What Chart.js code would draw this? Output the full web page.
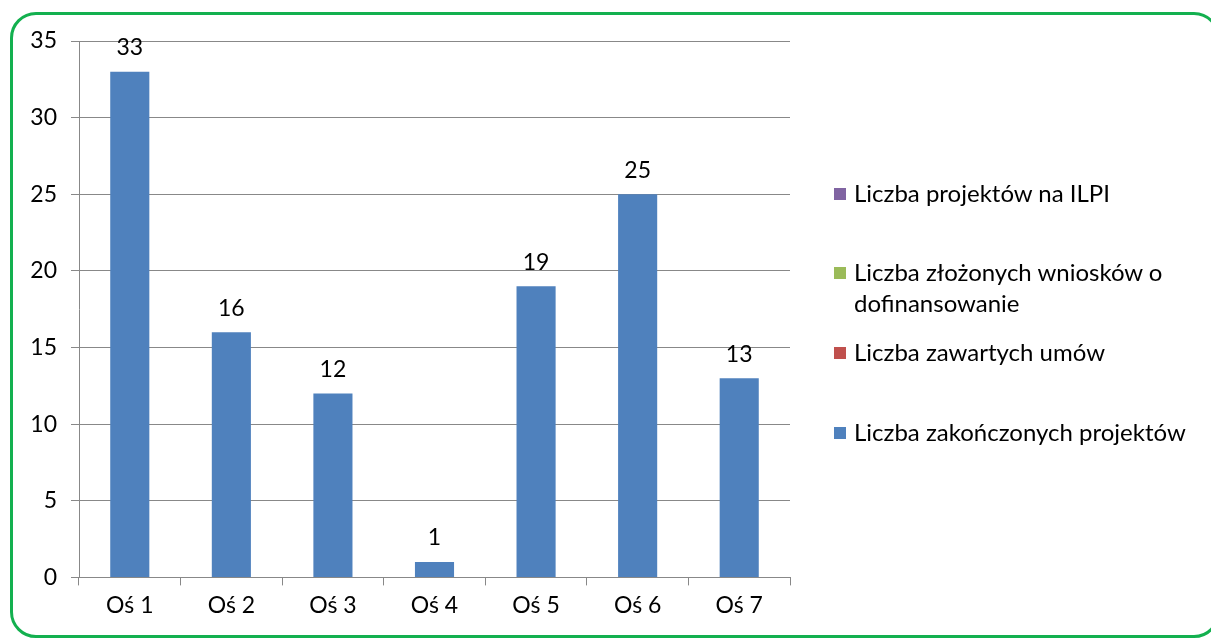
<!DOCTYPE html>
<html>
<head>
<meta charset="utf-8">
<script src="https://cdn.jsdelivr.net/npm/chart.js@4"></script>
<style>
  html, body { margin: 0; padding: 0; background: #fff; overflow: hidden; }
  #wrap { position: relative; width: 1211px; height: 639px; }
  #frame {
    position: absolute; left: 10px; top: 12px; width: 1210px; height: 626px;
    border: 3px solid #13b04f; border-radius: 26px; box-sizing: border-box;
  }
  #legend { position: absolute; left: 834px; top: 0; font-family: Lato, "Open Sans", sans-serif; font-size: 24px; color: #000; }
  .item { position: absolute; left: 0; white-space: nowrap; line-height: 31px; }
  .item span.box { display: inline-block; width: 12px; height: 12px; margin-right: 8px; vertical-align: 2px; }
</style>
</head>
<body>
<div id="wrap">
  <div id="frame"></div>
  <canvas id="chart" width="1211" height="639"></canvas>
  <div id="legend"></div>
</div>
<script>
// categories and values
const categories = ['Oś 1', 'Oś 2', 'Oś 3', 'Oś 4', 'Oś 5', 'Oś 6', 'Oś 7'];
const zakonczone = [33, 16, 12, 1, 19, 25, 13];
const seriesNames = ['Liczba projektów na ILPI', 'Liczba złożonych wniosków o\ndofinansowanie', 'Liczba zawartych umów', 'Liczba zakończonych projektów'];
const seriesColors = ['#8064A2', '#9BBB59', '#C0504D', '#4F81BD'];
const yTicks = [0, 5, 10, 15, 20, 25, 30, 35];

// only the last series has values, the other three are empty
const seriesData = [[], [], [], zakonczone];

const datasets = seriesNames.map((name, i) => ({
    label: name,
    data: seriesData[i],
    backgroundColor: seriesColors[i],
    barPercentage: 0.385,
    categoryPercentage: 1.0
}));

const FONT = 'Lato, "Open Sans", sans-serif';

// value labels over the bars
const valueLabels = {
    id: 'valueLabels',
    afterDatasetsDraw(chart) {
        const ctx = chart.ctx;
        const meta = chart.getDatasetMeta(3);
        ctx.save();
        ctx.font = '23px ' + FONT;
        ctx.fillStyle = '#000';
        ctx.textAlign = 'center';
        ctx.textBaseline = 'middle';
        meta.data.forEach((bar, i) => {
            ctx.fillText(String(zakonczone[i]), bar.x, bar.y - 24);
        });
        ctx.restore();
    }
};

new Chart(document.getElementById('chart').getContext('2d'), {
    type: 'bar',
    data: { labels: categories, datasets: datasets },
    options: {
        responsive: false,
        animation: false,
        layout: { padding: { top: 41, right: 421, bottom: 14, left: 0 } },
        plugins: {
            legend: { display: false },
            tooltip: { enabled: false }
        },
        scales: {
            x: {
                stacked: true,
                grid: { drawOnChartArea: false, drawTicks: true, tickLength: 8, offset: true, color: '#888' },
                border: { color: '#888' },
                ticks: { color: '#000', font: { size: 23, family: FONT }, padding: 6 }
            },
            y: {
                stacked: true,
                min: 0,
                max: 35,
                afterBuildTicks: (scale) => { scale.ticks = yTicks.map(v => ({ value: v })); },
                afterFit: (scale) => { scale.width = 79; },
                grid: { color: '#888', tickLength: 8 },
                border: { color: '#888' },
                ticks: { color: '#000', font: { size: 23, family: FONT }, padding: 14 }
            }
        }
    },
    plugins: [valueLabels]
});

// legend built from the dataset names
const legendTops = [177, 256, 336, 416];
const legend = document.getElementById('legend');
seriesNames.forEach((name, i) => {
    const div = document.createElement('div');
    div.className = 'item';
    div.style.top = legendTops[i] + 'px';
    const lines = name.split('\n');
    div.innerHTML = '<span class="box" style="background:' + seriesColors[i] + '"></span>' + lines[0] +
        (lines[1] ? '<br><span style="margin-left:20px">' + lines[1] + '</span>' : '');
    legend.appendChild(div);
});
</script>
</body>
</html>
